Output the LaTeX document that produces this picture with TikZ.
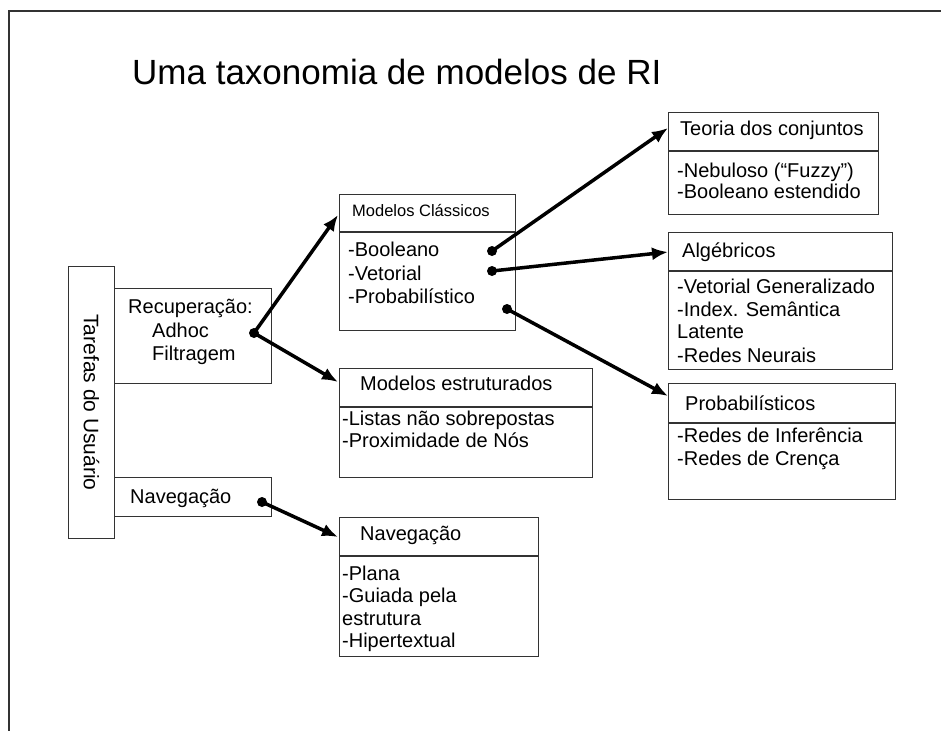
\documentclass[tikz,border=0pt]{standalone}
\usepackage{fontspec}
\setmainfont{Liberation Sans}
\usetikzlibrary{arrows.meta}
\begin{document}
\begin{tikzpicture}[x=1pt,y=-1pt]
\tikzset{
  box/.style={draw=black!80, line width=1.1pt, inner sep=0pt, anchor=north west},
  divider/.style={draw=black!80, line width=1.1pt},
  txt/.style={anchor=base west, inner sep=0pt, font=\fontsize{20}{24}\selectfont},
  conn/.style={line width=3.5pt, -{Latex[length=16pt,width=13pt]}},
  dot/.style={fill=black},
  frame/.style={draw=black!80, line width=2.5pt}
}
\useasboundingbox (0,0) rectangle (941,731);
\fill[white] (0,0) rectangle (941,731);
\draw[frame] (941,11) -- (9,11) -- (9,731);

% title
\node[anchor=base west, inner sep=0pt, font=\fontsize{35}{40}\selectfont] (title) at (132,84) {Uma taxonomia de modelos de RI};

% left column
\node[box, minimum width=46pt, minimum height=272pt] (tar) at (68,266) {};
\node[rotate=-90, inner sep=0pt, font=\fontsize{21}{24}\selectfont] (tartxt) at (tar.center) {Tarefas do Usuário};

\node[box, minimum width=157pt, minimum height=95pt] (rec) at (114,288) {};
\node[txt] (rec1) at (128,313) {Recuperação:};
\node[txt] (rec2) at (152,337) {Adhoc};
\node[txt] (rec3) at (152,360) {Filtragem};

\node[box, minimum width=157pt, minimum height=39pt] (nav) at (114,477) {};
\node[txt] (nav1) at (130,503) {Navegação};

% Modelos Classicos
\node[box, minimum width=176pt, minimum height=136pt] (mc) at (339,194) {};
\draw[divider] (339,232) -- (515,232);
\node[txt, font=\fontsize{16.5}{20}\selectfont] (mct) at (352,216) {Modelos Clássicos};
\node[txt] (mc1) at (348,256) {-Booleano};
\node[txt] (mc2) at (348,280) {-Vetorial};
\node[txt] (mc3) at (348,303) {-Probabilístico};

% Modelos estruturados
\node[box, minimum width=253pt, minimum height=109pt] (me) at (339,368) {};
\draw[divider] (339,407) -- (592,407);
\node[txt] (met) at (360,390) {Modelos estruturados};
\node[txt] (me1) at (342,425) {-Listas não sobrepostas};
\node[txt] (me2) at (342,447) {-Proximidade de Nós};

% Navegacao (modelos)
\node[box, minimum width=199pt, minimum height=139pt] (nm) at (339,517) {};
\draw[divider] (339,556) -- (538,556);
\node[txt] (nmt) at (360,540) {Navegação};
\node[txt] (nm1) at (342,580) {-Plana};
\node[txt] (nm2) at (342,602) {-Guiada pela};
\node[txt] (nm3) at (342,625) {estrutura};
\node[txt] (nm4) at (342,647) {-Hipertextual};

% Teoria dos conjuntos
\node[box, minimum width=210pt, minimum height=102pt] (teo) at (668,112) {};
\draw[divider] (668,151) -- (878,151);
\node[txt] (teot) at (680,135) {Teoria dos conjuntos};
\node[txt] (teo1) at (677,177) {-Nebuloso (“Fuzzy”)};
\node[txt] (teo2) at (677,198) {-Booleano estendido};

% Algebricos
\node[box, minimum width=224pt, minimum height=137pt] (alg) at (668,232) {};
\draw[divider] (668,271) -- (892,271);
\node[txt] (algt) at (682,257) {Algébricos};
\node[txt] (alg1) at (677,293) {-Vetorial Generalizado};
\node[txt] (alg2) at (677,316) {-Index. Semântica};
\node[txt] (alg3) at (677,338) {Latente};
\node[txt] (alg4) at (677,362) {-Redes Neurais};

% Probabilisticos
\node[box, minimum width=227pt, minimum height=116pt] (prb) at (668,383) {};
\draw[divider] (668,423) -- (895,423);
\node[txt] (prbt) at (685,410) {Probabilísticos};
\node[txt] (prb1) at (677,442) {-Redes de Inferência};
\node[txt] (prb2) at (677,465) {-Redes de Crença};

% connector points
\coordinate (dRec) at (254,333);
\coordinate (dNav) at (262,502);
\coordinate (dBoo) at (492,251);
\coordinate (dVet) at (492,271);
\coordinate (dPro) at (507,309);
\coordinate (tMc) at (338,215);
\coordinate (tMe) at (338,382);
\coordinate (tNm) at (338,537);
\coordinate (tTeo) at (668,128);
\coordinate (tAlg) at (668,252);
\coordinate (tPrb) at (668,396);

\draw[conn] (dRec) -- (tMc);
\draw[conn] (dRec) -- (tMe);
\draw[conn] (dNav) -- (tNm);
\draw[conn] (dBoo) -- (tTeo);
\draw[conn] (dVet) -- (tAlg);
\draw[conn] (dPro) -- (tPrb);

\foreach \d in {dRec,dNav,dBoo,dVet,dPro} \fill[dot] (\d) circle (5pt);
\end{tikzpicture}
\end{document}
